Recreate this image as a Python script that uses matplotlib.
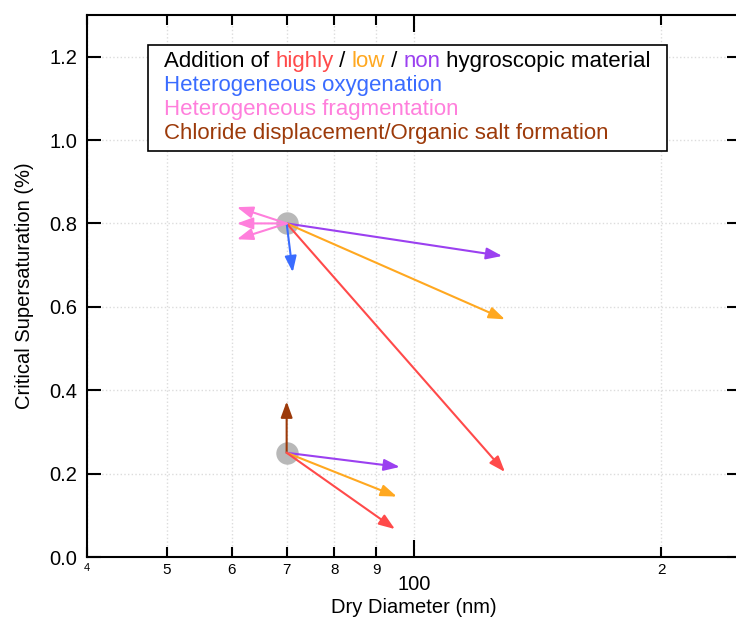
import matplotlib
matplotlib.use("Agg")
import matplotlib.pyplot as plt
from matplotlib.offsetbox import TextArea, HPacker, VPacker, AnchoredOffsetbox, DrawingArea
from matplotlib.ticker import FixedLocator, FixedFormatter

plt.rcParams['font.family'] = ['Liberation Sans', 'DejaVu Sans']

# ── Data ──────────────────────────────────────────────────────────────────────
# starting particles (dry diameter nm, critical supersaturation %)
start_d = [70, 70]
start_s = [0.80, 0.25]

# arrows from the upper particle: (end diameter, end supersaturation, colour key)
upper_end_d = [128, 129, 129, 71.2, 60.9, 60.9, 60.9]
upper_end_s = [0.722, 0.57, 0.204, 0.683, 0.839, 0.80, 0.762]
upper_kind  = ['non', 'low', 'high', 'oxy', 'frag', 'frag', 'frag']

# arrows from the lower particle
lower_end_d = [70, 96.1, 95.3, 94.8]
lower_end_s = [0.373, 0.216, 0.145, 0.067]
lower_kind  = ['salt', 'non', 'low', 'high']

COLORS = {'high': '#ff4a4a', 'low': '#ffa820', 'non': '#9b40f0',
          'oxy': '#3a6cff', 'frag': '#ff7fdc', 'salt': '#9c3a0a'}

y_ticks = [0.0, 0.2, 0.4, 0.6, 0.8, 1.0, 1.2]
x_minor = [40, 50, 60, 70, 80, 90, 200]
x_minor_labels = ['4', '5', '6', '7', '8', '9', '2']

# ── Figure ────────────────────────────────────────────────────────────────────
fig = plt.figure(figsize=(7.36, 6.21), dpi=100)
ax = fig.add_axes([0.118, 0.103, 0.889, 0.873])

ax.set_xscale('log')
ax.set_xlim(40, 250)
ax.set_ylim(0, 1.3)

ax.xaxis.set_major_locator(FixedLocator([100]))
ax.xaxis.set_major_formatter(FixedFormatter(['100']))
ax.xaxis.set_minor_locator(FixedLocator(x_minor))
ax.xaxis.set_minor_formatter(FixedFormatter(x_minor_labels))
ax.set_yticks(y_ticks)
ax.set_yticklabels([f'{v:.1f}' for v in y_ticks])

ax.tick_params(which='both', direction='in', top=True, right=True, width=1.5, colors='black')
ax.tick_params(axis='y', which='major', length=10, labelsize=14.5, pad=7)
ax.tick_params(axis='x', which='major', length=12, labelsize=14.5, pad=13)
ax.tick_params(axis='x', which='minor', length=7, labelsize=11, pad=4)
for lab in ax.xaxis.get_minorticklabels():
    if lab.get_text() == '4':
        lab.set_fontsize(8)
for spine in ax.spines.values():
    spine.set_linewidth(1.5)

ax.grid(which='major', axis='both', color='#dcdcdc', linestyle=':', linewidth=1)
ax.grid(which='minor', axis='x', color='#dcdcdc', linestyle=':', linewidth=1)
ax.set_axisbelow(True)

ax.set_xlabel('Dry Diameter (nm)', fontsize=14.5, labelpad=3)
ax.set_ylabel('Critical Supersaturation (%)', fontsize=14.5, labelpad=11)

ax.scatter(start_d, start_s, s=260, color='#b8b8b8', zorder=2, linewidths=0)

def draw_arrows(x0, y0, ends_d, ends_s, kinds):
    for xd, ys, k in zip(ends_d, ends_s, kinds):
        ax.annotate('', xy=(xd, ys), xytext=(x0, y0),
                    arrowprops=dict(arrowstyle='-|>,head_length=0.6,head_width=0.22',
                                    color=COLORS[k], lw=1.5,
                                    mutation_scale=16, shrinkA=0, shrinkB=0),
                    zorder=3)

draw_arrows(start_d[0], start_s[0], upper_end_d, upper_end_s, upper_kind)
draw_arrows(start_d[1], start_s[1], lower_end_d, lower_end_s, lower_kind)

# ── Legend text box ───────────────────────────────────────────────────────────
fs = 16
def ta(s, c):
    return TextArea(s, textprops=dict(color=c, fontsize=fs))

line1 = HPacker(children=[ta('Addition of ', 'black'), ta('highly', COLORS['high']),
                          ta(' / ', 'black'), ta('low', COLORS['low']),
                          ta(' / ', 'black'), ta('non', COLORS['non']),
                          ta(' hygroscopic material', 'black')],
                align='baseline', pad=0, sep=0)
lines = VPacker(children=[line1,
                          ta('Heterogeneous oxygenation', COLORS['oxy']),
                          ta('Heterogeneous fragmentation', COLORS['frag']),
                          ta('Chloride displacement/Organic salt formation', COLORS['salt'])],
                align='left', pad=0, sep=2.2)
box = HPacker(children=[DrawingArea(7, 1), lines, DrawingArea(7, 1)],
              align='center', pad=0, sep=0)
anch = AnchoredOffsetbox(loc='upper left', child=box, pad=0.45, borderpad=0,
                         prop=dict(size=10),
                         bbox_to_anchor=(0.0933, 0.9446), bbox_transform=ax.transAxes,
                         frameon=True)
anch.patch.set_edgecolor('black')
anch.patch.set_linewidth(1.2)
anch.patch.set_boxstyle('square', pad=0)
ax.add_artist(anch)

fig.savefig('out.png', dpi=100, facecolor='white')
